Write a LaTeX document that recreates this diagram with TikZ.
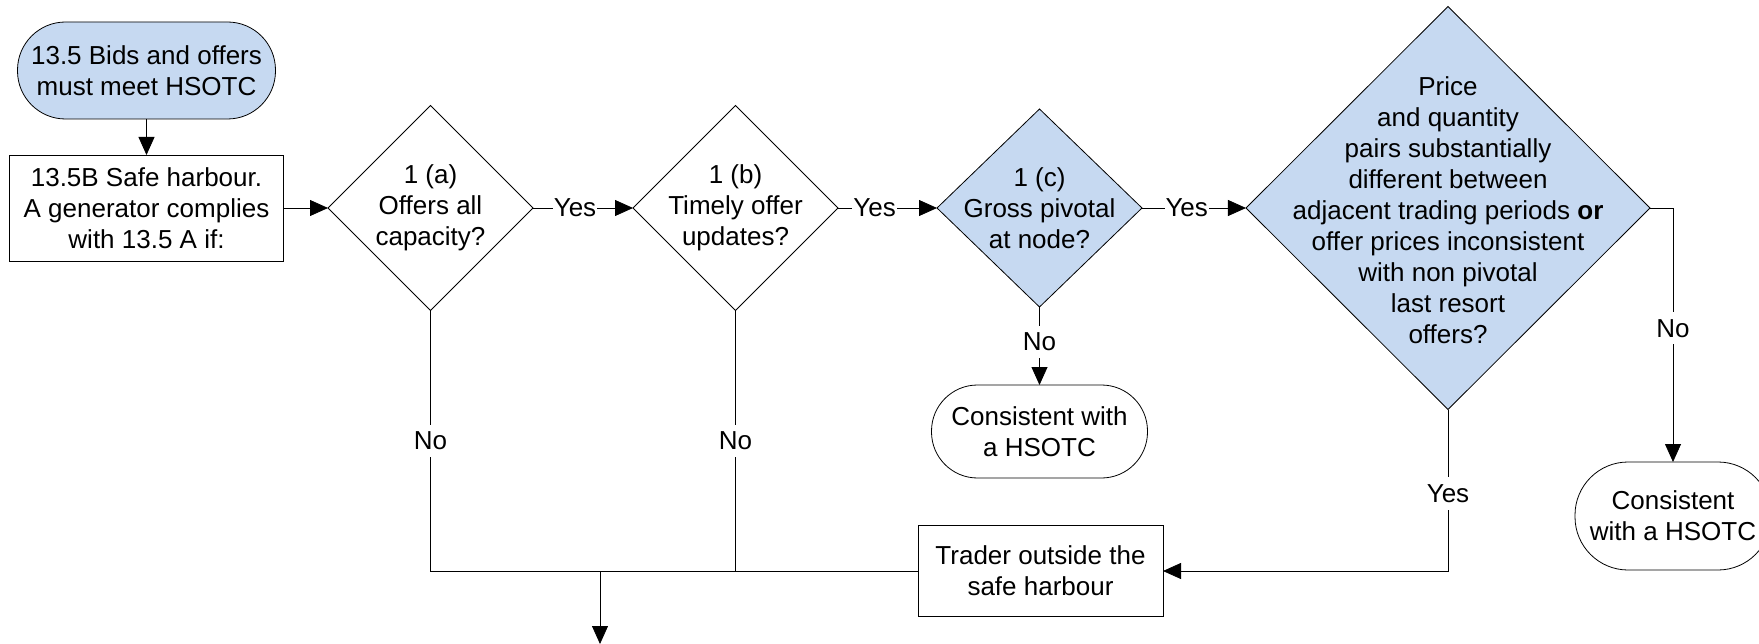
\documentclass[tikz,border=0pt]{standalone}
\usepackage{fontspec}
\setmainfont{Liberation Sans}
\usetikzlibrary{shapes.geometric,arrows.meta}
\definecolor{bluefill}{HTML}{C6D9F1}
\tikzset{
  base/.style={draw=black, line width=0.8pt, inner sep=0pt, outer sep=0pt, align=center,
    font=\fontsize{26}{31}\selectfont},
  terminal/.style={base, rectangle, rounded corners=#1},
  terminal/.default=46pt,
  procbox/.style={base, rectangle},
  dia/.style={base, diamond},
  txt/.style={inner sep=0pt, align=center, font=\fontsize{26}{31}\selectfont},
  lbl/.style={fill=white, inner xsep=1pt, inner ysep=7pt, font=\fontsize{26}{31}\selectfont},
  conn/.style={line width=0.8pt},
  arr/.style={conn, -{Triangle[length=18pt,width=16pt]}},
}
\begin{document}
\begin{tikzpicture}[x=1pt,y=-1pt]
\clip (0,0) rectangle (1759,644);
\fill[white] (0,0) rectangle (1759,644);

% nodes
\node[terminal=48pt, fill=bluefill, minimum width=258pt, minimum height=97pt] (start) at (146.5,70.5)
  {13.5 Bids and offers\\must meet HSOTC};
\node[procbox, minimum width=274pt, minimum height=106pt] (safe) at (146.5,208)
  {13.5B Safe harbour.\\A generator complies\\with 13.5 A if:};

\node[dia, minimum width=205pt, minimum height=205pt] (da) at (430.5,208) {};
\node[txt] (ta) at (da) {1 (a)\\Offers all\\capacity?};

\node[dia, minimum width=205pt, minimum height=205pt] (db) at (735.5,208) {};
\node[txt] (tb) at (db) {1 (b)\\Timely offer\\updates?};

\node[dia, fill=bluefill, minimum width=205pt, minimum height=198pt] (dc) at (1039.5,208) {};
\node[txt] (tc) at (dc) {1 (c)\\Gross pivotal\\at node?};

\node[dia, fill=bluefill, minimum width=404pt, minimum height=403pt] (dd) at (1448,208) {};
\node[txt] (td) at (1448,210) {Price\\and quantity\\pairs substantially\\different between\\adjacent trading periods \textbf{or}\\offer prices inconsistent\\with non pivotal\\last resort\\offers?};

\node[terminal=46pt, minimum width=216pt, minimum height=93pt] (cons1) at (1039.5,431.5)
  {Consistent with\\a HSOTC};
\node[terminal=53pt, minimum width=196pt, minimum height=108pt] (cons2) at (1673,516)
  {Consistent\\with a HSOTC};

\node[procbox, minimum width=245pt, minimum height=91pt] (trader) at (1040.5,571)
  {Trader outside the\\safe harbour};

\coordinate (j) at (600,571);
\coordinate (e) at (600,644);

% connectors
\draw[arr] (start) -- (safe);
\draw[arr] (safe) -- (da);
\draw[arr] (da) -- node[lbl, pos=0.42] {Yes} (db);
\draw[arr] (db) -- node[lbl, pos=0.37] {Yes} (dc);
\draw[arr] (dc) -- node[lbl, pos=0.43] {Yes} (dd);
\draw[arr] (dc) -- node[lbl, pos=0.45] {No} (cons1);
\draw[arr] (dd.east) -| node[lbl, pos=0.737] {No} (cons2);
\draw[arr] (dd.south) |- node[lbl, pos=0.26] {Yes} (trader);
\draw[conn] (da.south) -- node[lbl] {No} (da.south |- j) -- (j);
\draw[conn] (db.south) -- node[lbl] {No} (db.south |- j) -- (j);
\draw[conn] (trader) -- (j);
\draw[arr] (j) -- (e);
\end{tikzpicture}
\end{document}
